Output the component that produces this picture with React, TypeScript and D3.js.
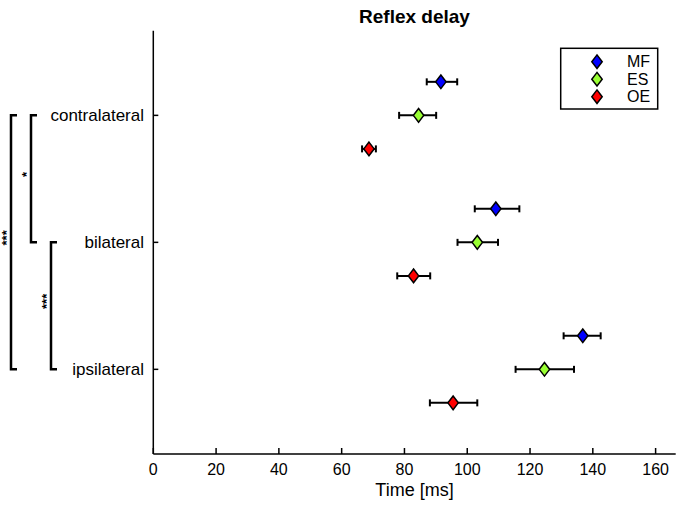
import * as d3 from 'd3';

// categories (y) and series
const categories = ['contralateral', 'bilateral', 'ipsilateral'];
const seriesNames = ['MF', 'ES', 'OE'];
const seriesColors = ['#0000ff', '#99ff33', '#ff0000'];

// mean reflex delay [ms] per category, one array per series
const meanMF = [91.6, 109.1, 136.8];
const meanES = [84.5, 103.2, 124.6];
const meanOE = [68.7, 82.9, 95.5];

// error bar ends
const loMF = [87.1, 102.4, 130.7];
const hiMF = [96.8, 116.6, 142.5];
const loES = [78.3, 96.9, 115.4];
const hiES = [90.1, 109.8, 134.0];
const loOE = [66.5, 77.7, 88.1];
const hiOE = [70.9, 88.2, 103.2];

const xTicks = [0, 20, 40, 60, 80, 100, 120, 140, 160];

// significance brackets between categories
const sigFrom = [0, 0, 1];
const sigTo = [2, 1, 2];
const sigLabel = ['***', '*', '***'];

const font = '"Liberation Sans", Arial, Helvetica, sans-serif';

const App = () => {
  const width = 680;
  const height = 510;

  const x = d3.scaleLinear().domain([0, 166.4]).range([153.3, 675.7]);
  // categories sit at 1, 2, 3
  const y = d3.scaleLinear().domain([1 / 3, 11 / 3]).range([30.7, 454]);
  const offset = [-0.264, 0, 0.264];

  const series = [
    { mean: meanMF, lo: loMF, hi: hiMF },
    { mean: meanES, lo: loES, hi: hiES },
    { mean: meanOE, lo: loOE, hi: hiOE },
  ];

  const diamond = (cx: number, cy: number, w: number, h: number) =>
    `M${cx},${cy - h}L${cx + w},${cy}L${cx},${cy + h}L${cx - w},${cy}Z`;

  const [x0, x1] = x.range();
  const [yTop, yBot] = y.range();

  const bracketX = [11, 31, 51];

  return (
    <svg
      width={width}
      height={height}
      style={{ position: 'absolute', left: 0, top: 0, background: '#fff' }}
      fontFamily={font}
    >
      <text x={(x0 + x1) / 2} y={22.5} textAnchor="middle" fontSize={19} fontWeight="bold">
        Reflex delay
      </text>

      {/* axes */}
      <line x1={x0} x2={x0} y1={yTop} y2={yBot} stroke="#000" strokeWidth={1.5} />
      <line x1={x0} x2={x1} y1={yBot} y2={yBot} stroke="#000" strokeWidth={1.5} />

      {xTicks.map((t) => (
        <g key={t}>
          <line x1={x(t)} x2={x(t)} y1={yBot} y2={yBot - 6} stroke="#000" strokeWidth={1.5} />
          <text x={x(t)} y={475} textAnchor="middle" fontSize={16}>
            {t}
          </text>
        </g>
      ))}
      <text x={(x0 + x1) / 2} y={495.5} textAnchor="middle" fontSize={18}>
        Time [ms]
      </text>

      {categories.map((c, i) => (
        <g key={c}>
          <line x1={x0} x2={x0 + 5} y1={y(i + 1)} y2={y(i + 1)} stroke="#000" strokeWidth={1.5} />
          <text x={144} y={y(i + 1) + 5.5} textAnchor="end" fontSize={17}>
            {c}
          </text>
        </g>
      ))}

      {/* significance brackets */}
      {sigLabel.map((lab, k) => {
        const bx = bracketX[k];
        const ya = y(sigFrom[k] + 1);
        const yb = y(sigTo[k] + 1);
        const ym = (ya + yb) / 2 - 4.5;
        return (
          <g key={k}>
            <path
              d={`M${bx + 6},${ya}H${bx}V${yb}H${bx + 6}`}
              fill="none"
              stroke="#000"
              strokeWidth={2.5}
            />
            <text
              transform={`translate(${bx + 0.3},${ym}) rotate(-90)`}
              textAnchor="middle"
              fontSize={13}
              fontWeight="bold"
            >
              {lab}
            </text>
          </g>
        );
      })}

      {/* error bars and markers */}
      {series.map((s, j) =>
        categories.map((c, i) => {
          const cy = y(i + 1 + offset[j]);
          return (
            <g key={`${j}-${i}`}>
              <line x1={x(s.lo[i])} x2={x(s.hi[i])} y1={cy} y2={cy} stroke="#000" strokeWidth={2} />
              <line x1={x(s.lo[i])} x2={x(s.lo[i])} y1={cy - 3.5} y2={cy + 3.5} stroke="#000" strokeWidth={2} />
              <line x1={x(s.hi[i])} x2={x(s.hi[i])} y1={cy - 3.5} y2={cy + 3.5} stroke="#000" strokeWidth={2} />
              <path
                d={diamond(x(s.mean[i]), cy, 5.2, 6.8)}
                fill={seriesColors[j]}
                stroke="#000"
                strokeWidth={1.5}
              />
            </g>
          );
        })
      )}

      {/* legend */}
      <rect x={560.7} y={48.3} width={97} height={60.7} fill="#fff" stroke="#000" strokeWidth={1.5} />
      {seriesNames.map((n, j) => {
        const ly = 61.7 + j * 17.5;
        return (
          <g key={n}>
            <path d={diamond(597, ly, 5.2, 6.8)} fill={seriesColors[j]} stroke="#000" strokeWidth={1.5} />
            <text x={627} y={ly + 5.5} fontSize={16}>
              {n}
            </text>
          </g>
        );
      })}
    </svg>
  );
};

export default App;
